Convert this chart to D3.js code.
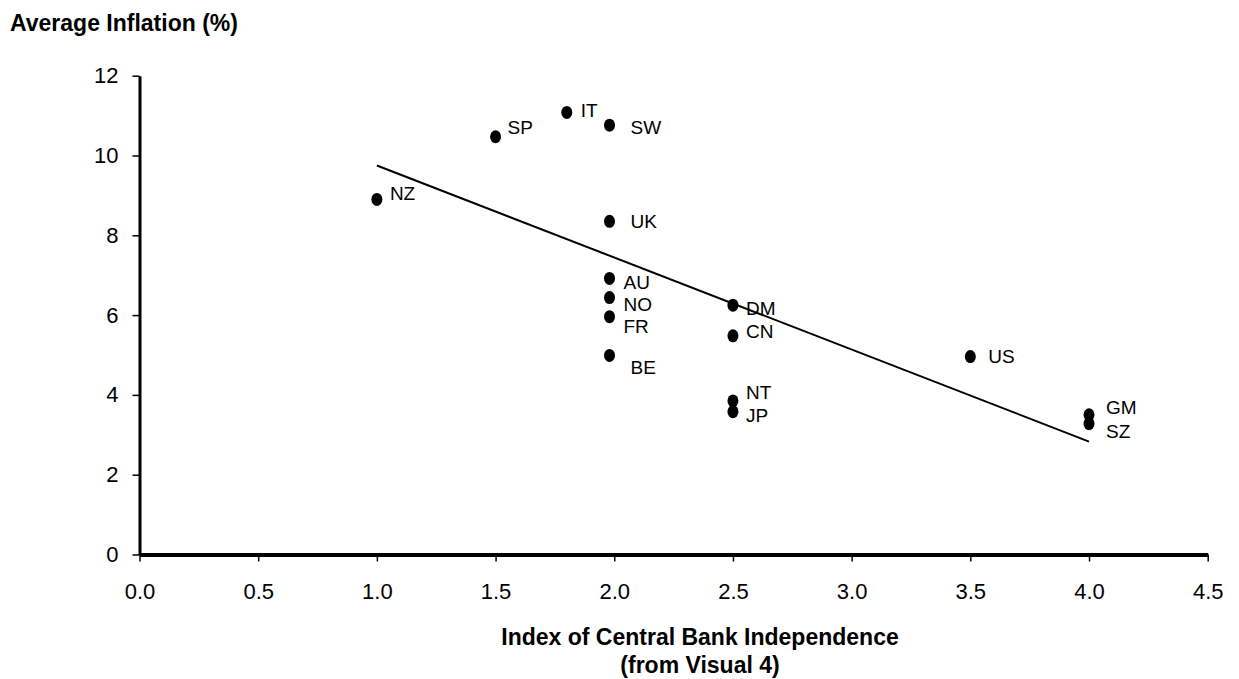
<!DOCTYPE html>
<html lang="en">
<head>
  <title>Inflation vs Central Bank Independence</title>
  <script src="https://cdn.jsdelivr.net/npm/d3@7"></script>
  <style>
    body { margin: 0; background: #fff; }
    text { font-family: "Liberation Sans", Arial, Helvetica, sans-serif; fill: #000; }
  </style>
</head>
<body>
  <script>
    // data
    let countries = ["NZ", "SP", "IT", "SW", "UK", "AU", "NO", "FR", "BE", "DM", "CN", "NT", "JP", "US", "GM", "SZ"];
    let independence = [1.0, 1.5, 1.8, 1.98, 1.98, 1.98, 1.98, 1.98, 1.98, 2.5, 2.5, 2.5, 2.5, 3.5, 4.0, 4.0];
    let inflation = [8.9, 10.47, 11.08, 10.76, 8.35, 6.92, 6.44, 5.96, 4.99, 6.25, 5.48, 3.85, 3.58, 4.96, 3.5, 3.28];
    // fitted trend line end points
    let trendX = [1.0, 4.0];
    let trendY = [9.75, 2.83];
    let xTicks = [0, 0.5, 1, 1.5, 2, 2.5, 3, 3.5, 4, 4.5];
    let yTicks = [0, 2, 4, 6, 8, 10, 12];

    // label offsets from each dot (layout only)
    let labelOffset = {
      NZ: [13, -6], SP: [12, -9], IT: [14, -2], SW: [21, 2], UK: [21, 0],
      AU: [14, 4], NO: [14, 7], FR: [14, 10], BE: [21, 12],
      DM: [13, 3], CN: [13, -4], NT: [13, -8], JP: [13, 4],
      US: [18, 0], GM: [17, -7], SZ: [17, 8]
    };

    let svgWidth = 1239, svgHeight = 679;
    let plot = { left: 139.5, right: 1207.7, top: 75.7, bottom: 554.5 };

    let svg = d3.select("body").append("svg")
      .attr("width", svgWidth)
      .attr("height", svgHeight);

    let xScale = d3.scaleLinear().domain([0, 4.5]).range([plot.left, plot.right]);
    let yScale = d3.scaleLinear().domain([0, 12]).range([plot.bottom, plot.top]);

    // x axis
    let xAxisG = svg.append("g")
      .attr("transform", `translate(0, ${plot.bottom})`)
      .call(d3.axisBottom(xScale).tickValues(xTicks).tickFormat(d3.format(".1f"))
        .tickSize(7).tickSizeOuter(0).tickPadding(22));
    xAxisG.select(".domain").attr("stroke-width", 4);
    xAxisG.selectAll(".tick line").attr("stroke-width", 1.5);
    xAxisG.selectAll(".tick text").attr("font-size", 22).style("font-family", "Liberation Sans, Arial, sans-serif");

    // y axis
    let yAxisG = svg.append("g")
      .attr("transform", `translate(${plot.left}, 0)`)
      .call(d3.axisLeft(yScale).tickValues(yTicks)
        .tickSize(7).tickSizeOuter(0).tickPadding(14));
    yAxisG.select(".domain").attr("stroke-width", 3);
    yAxisG.selectAll(".tick line").attr("stroke-width", 1.5);
    yAxisG.selectAll(".tick text").attr("font-size", 22).style("font-family", "Liberation Sans, Arial, sans-serif");

    // trend line
    svg.append("line")
      .attr("x1", xScale(trendX[0])).attr("y1", yScale(trendY[0]))
      .attr("x2", xScale(trendX[1])).attr("y2", yScale(trendY[1]))
      .attr("stroke", "#000")
      .attr("stroke-width", 2);

    // points
    let points = countries.map((c, i) => ({ name: c, x: independence[i], y: inflation[i] }));
    svg.selectAll(".point").data(points).join("ellipse")
      .attr("class", "point")
      .attr("cx", d => xScale(d.x))
      .attr("cy", d => yScale(d.y))
      .attr("rx", 5.5)
      .attr("ry", 6.5)
      .attr("fill", "#000");

    svg.selectAll(".label").data(points).join("text")
      .attr("class", "label")
      .attr("x", d => xScale(d.x) + labelOffset[d.name][0])
      .attr("y", d => yScale(d.y) + labelOffset[d.name][1])
      .attr("dominant-baseline", "central")
      .attr("font-size", 19)
      .text(d => d.name);

    // titles
    svg.append("text")
      .attr("x", 10).attr("y", 31)
      .attr("font-size", 23).attr("font-weight", "bold")
      .text("Average Inflation (%)");

    svg.append("text")
      .attr("x", 700).attr("y", 645)
      .attr("text-anchor", "middle")
      .attr("font-size", 23).attr("font-weight", "bold")
      .text("Index of Central Bank Independence");

    svg.append("text")
      .attr("x", 700).attr("y", 673)
      .attr("text-anchor", "middle")
      .attr("font-size", 23).attr("font-weight", "bold")
      .text("(from Visual 4)");
  </script>
</body>
</html>
